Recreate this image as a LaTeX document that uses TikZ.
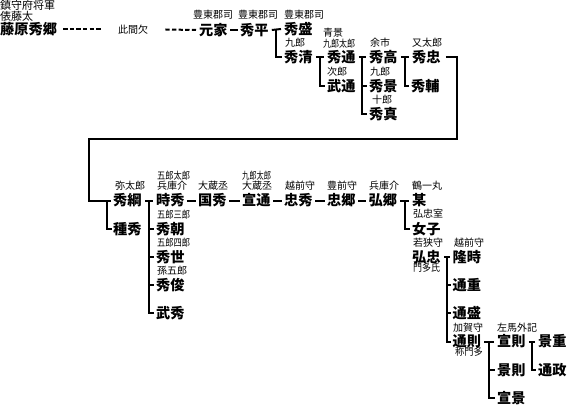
\documentclass[tikz,border=0pt]{standalone}
\usepackage{fontspec}
\newfontfamily\jp{Noto Sans CJK JP}
\usetikzlibrary{calc}
\newcommand\mybr[3]{%
  \draw[conn] ([xshift=3pt]#1.east) -- ([xshift=-3pt]#2.west);
  \foreach \c in {#3} \draw[conn] ($(#1.east)!0.5!(#2.west)$) |- ([xshift=-2pt]\c.west);
}
\newcommand\mydash[2]{\draw[conn] ([xshift=2.5pt]#1.east) -- ([xshift=-2.5pt]#2.west);}
\newcommand\cnd[2]{\scalebox{#1}[1]{#2}}
\begin{document}
\begin{tikzpicture}[x=1pt,y=-1pt,
  nm/.style={font=\jp\bfseries\fontsize{14.2}{14.2}\selectfont, inner sep=0pt, anchor=west},
  lb/.style={font=\jp\fontsize{10}{10}\selectfont, inner sep=0pt, anchor=west},
  lbb/.style={font=\jp\fontsize{11}{11}\selectfont, inner sep=0pt, anchor=west},
  conn/.style={line width=2pt},
  gap/.style={line width=2pt, dash pattern=on 4.3pt off 2.3pt}]
\useasboundingbox (0,0) rectangle (572,406);
\fill[white] (0,0) rectangle (572,406);
% ---- top block
\node[lbb] (l1) at (0,5) {鎮守府将軍};
\node[lbb] (l2) at (0,16.5) {俵藤太};
\node[nm] (fujiwara) at (0,29.5) {藤原秀郷};
\node[lb] (kono) at (118,29.5) {此間欠};
\node[lb] (l3) at (193,15) {豊東郡司};
\node[nm] (motoie) at (199,30) {元家};
\node[lb] (l4) at (238,15) {豊東郡司};
\node[nm] (hidehira) at (240,30) {秀平};
\node[lb] (l5) at (284,15) {豊東郡司};
\node[nm] (hidemori) at (284,29) {秀盛};
\node[lb] (l6) at (285,43) {九郎};
\node[nm] (hidekiyo) at (284,57.5) {秀清};
\node[lb] (l7) at (323,32.5) {青景};
\node[lb] (l8) at (323,43.5) {\cnd{0.8}{九郎太郎}};
\node[nm] (hidemichi) at (327,57.5) {秀通};
\node[lb] (l9) at (327,71.7) {次郎};
\node[nm] (takemichi) at (327,86) {武通};
\node[lb] (l10) at (370,43) {余市};
\node[nm] (hidetaka) at (369,57.5) {秀高};
\node[lb] (l11) at (370,72) {九郎};
\node[nm] (hidekage) at (369,86) {秀景};
\node[lb] (l12) at (372,100) {十郎};
\node[nm] (hidezane) at (369,114.5) {秀真};
\node[lb] (l13) at (412,43) {又太郎};
\node[nm] (hidetada) at (412,57.5) {秀忠};
\node[nm] (hidesuke) at (411,86) {秀輔};
% ---- second block
\node[lb] (l14) at (115,186) {弥太郎};
\node[nm] (hidetsuna) at (113,200.5) {秀綱};
\node[nm] (tanehide) at (113,229) {種秀};
\node[lb] (l15) at (157,176) {\cnd{0.82}{五郎太郎}};
\node[lb] (l16) at (157,186) {兵庫介};
\node[nm] (tokihide) at (156,200.5) {時秀};
\node[lb] (l17) at (157,215) {\cnd{0.82}{五郎三郎}};
\node[nm] (hidetomo) at (156,229) {秀朝};
\node[lb] (l18) at (157,243) {\cnd{0.82}{五郎四郎}};
\node[nm] (hideyo) at (156,257) {秀世};
\node[lb] (l19) at (157,271) {孫五郎};
\node[nm] (hidetoshi) at (156,285) {秀俊};
\node[nm] (takehide) at (156,313) {武秀};
\node[lb] (l20) at (198,186) {大蔵丞};
\node[nm] (kunihide) at (198,200.5) {国秀};
\node[lb] (l21) at (242,176) {\cnd{0.72}{九郎太郎}};
\node[lb] (l22) at (242,186) {大蔵丞};
\node[nm] (nobumichi) at (242,200.5) {宣通};
\node[lb] (l23) at (285,186) {越前守};
\node[nm] (tadahide) at (284,200.5) {忠秀};
\node[lb] (l24) at (327,186) {豊前守};
\node[nm] (tadasato) at (327,200.5) {忠郷};
\node[lb] (l25) at (369,186) {兵庫介};
\node[nm] (hirosato) at (368.5,200.5) {弘郷};
\node[lb] (l26) at (412,186) {鶴一丸};
\node[nm] (bou) at (412,200.5) {某};
\node[lb] (l27) at (413,214) {弘忠室};
\node[nm] (joshi) at (412,229) {女子};
\node[lb] (l28) at (413,243) {若狭守};
\node[nm] (hirotada) at (412,257) {弘忠};
\node[lb] (l29) at (413,268) {\cnd{0.9}{門多氏}};
\node[lb] (l30) at (454,243) {越前守};
\node[nm] (takatoki) at (452.5,257) {隆時};
\node[nm] (michishige) at (452.5,285) {通重};
\node[nm] (michimori) at (452.5,313) {通盛};
\node[lb] (l31) at (453,327.5) {加賀守};
\node[nm] (michinori) at (452.5,341.5) {通則};
\node[lb] (l32) at (455,352) {\cnd{0.92}{称門多}};
\node[lb] (l33) at (497,327.5) {左馬外記};
\node[nm] (nobunori) at (497,341.5) {宣則};
\node[nm] (kagenori) at (497,370) {景則};
\node[nm] (nobukage) at (497,398) {宣景};
\node[nm] (kageshige) at (538,341.5) {景重};
\node[nm] (michimasa) at (538,370) {通政};
% ---- connectors
\draw[gap] ([xshift=6pt]fujiwara.east) -- ([xshift=-17pt]kono.west);
\draw[gap] ([xshift=17pt]kono.east) -- ([xshift=-3pt]motoie.west);
\mydash{motoie}{hidehira}
\mybr{hidehira}{hidemori}{hidekiyo}
\mybr{hidekiyo}{hidemichi}{takemichi}
\mybr{hidemichi}{hidetaka}{hidekage,hidezane}
\mybr{hidetaka}{hidetada}{hidesuke}
\coordinate (turnR) at (457,139);
\coordinate (turnL) at (89,139);
\draw[conn] ([xshift=5pt]hidetada.east) -| (turnR) -- (turnL) |- ([xshift=-2pt]hidetsuna.west);
\draw[conn] ([xshift=-6pt]hidetsuna.west) |- ([xshift=-1pt]tanehide.west);
\mybr{hidetsuna}{tokihide}{hidetomo,hideyo,hidetoshi,takehide}
\mydash{tokihide}{kunihide}
\mydash{kunihide}{nobumichi}
\mydash{nobumichi}{tadahide}
\mydash{tadahide}{tadasato}
\mydash{tadasato}{hirosato}
\mybr{hirosato}{bou}{joshi}
\mybr{hirotada}{takatoki}{michishige,michimori,michinori}
\mybr{michinori}{nobunori}{kagenori,nobukage}
\mybr{nobunori}{kageshige}{michimasa}
\end{tikzpicture}
\end{document}
